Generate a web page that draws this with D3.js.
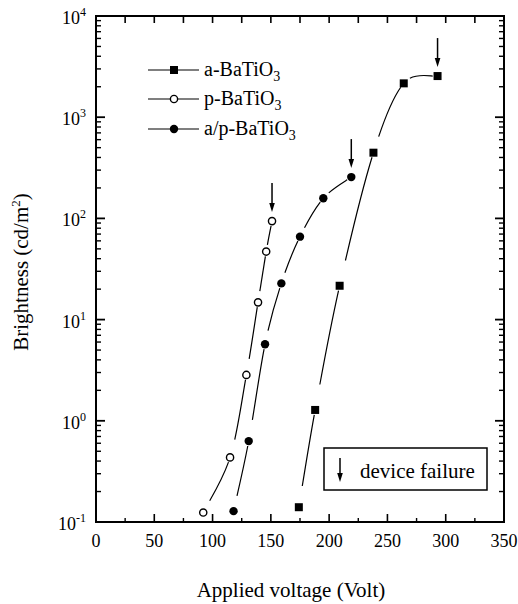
<!DOCTYPE html>
<html>
<head>
<meta charset="utf-8">
<script src="https://cdn.jsdelivr.net/npm/d3@7"></script>
<style>
  html, body { margin: 0; padding: 0; background: #fff; }
  svg text { font-family: "Liberation Serif", "Times New Roman", serif; fill: #000; }
</style>
</head>
<body>
<svg id="chart" width="518" height="604"></svg>
<script>
// Brightness vs applied voltage for three BaTiO3 insulator variants
const aVolt = [174, 188, 209, 238, 264, 293];
const aBright = [0.14, 1.28, 21.6, 446, 2160, 2550];
const pVolt = [92, 115, 129, 139, 146, 151];
const pBright = [0.124, 0.435, 2.84, 14.8, 47, 94];
const apVolt = [118, 131, 145, 159, 175, 195, 219];
const apBright = [0.128, 0.63, 5.7, 22.8, 66, 158, 256];

const seriesNames = ["a-BaTiO", "p-BaTiO", "a/p-BaTiO"];
const xTickValues = [0, 50, 100, 150, 200, 250, 300, 350];
const xMinorValues = [25, 75, 125, 175, 225, 275, 325];
const yDecades = [-1, 0, 1, 2, 3, 4];

const svg = d3.select("#chart");
const plotL = 96, plotR = 504, plotT = 16, plotB = 522;

const x = d3.scaleLinear().domain([0, 350]).range([plotL, plotR]);
const y = d3.scaleLog().domain([0.1, 1e4]).range([plotB, plotT]);

// minor log ticks 2..9 within each decade
const yMinor = [];
for (let d = -1; d < 4; d++) for (let m = 2; m <= 9; m++) yMinor.push(m * Math.pow(10, d));
const yMajor = yDecades.map(e => Math.pow(10, e));

const axes = svg.append("g").attr("stroke", "#000").attr("fill", "none");

// frame
axes.append("rect")
  .attr("x", plotL).attr("y", plotT)
  .attr("width", plotR - plotL).attr("height", plotB - plotT)
  .attr("stroke-width", 2);

// bottom ticks (inward)
axes.append("g").selectAll("line").data(xTickValues.slice(1, -1)).join("line")
  .attr("x1", d => x(d)).attr("x2", d => x(d))
  .attr("y1", plotB).attr("y2", plotB - 8).attr("stroke-width", 1.6);
axes.append("g").selectAll("line").data(xMinorValues).join("line")
  .attr("x1", d => x(d)).attr("x2", d => x(d))
  .attr("y1", plotB).attr("y2", plotB - 4).attr("stroke-width", 1.4);
// top ticks
axes.append("g").selectAll("line").data(xTickValues.slice(1, -1).concat(xMinorValues)).join("line")
  .attr("x1", d => x(d)).attr("x2", d => x(d))
  .attr("y1", plotT).attr("y2", plotT + 7).attr("stroke-width", 1.6);

// left / right log ticks
[[plotL, 1], [plotR, -1]].forEach(([px, dir]) => {
  axes.append("g").selectAll("line").data(yMajor.slice(1, -1)).join("line")
    .attr("x1", px).attr("x2", px + dir * 9)
    .attr("y1", d => y(d)).attr("y2", d => y(d)).attr("stroke-width", 1.8);
  axes.append("g").selectAll("line").data(yMinor).join("line")
    .attr("x1", px).attr("x2", px + dir * 5)
    .attr("y1", d => y(d)).attr("y2", d => y(d)).attr("stroke-width", 1.4);
});

// x tick labels
svg.append("g").selectAll("text").data(xTickValues).join("text")
  .attr("x", d => x(d)).attr("y", 547)
  .attr("text-anchor", "middle").attr("font-size", 18)
  .text(d => d);

// y tick labels as powers of ten
const yl = svg.append("g").selectAll("text").data(yDecades).join("text")
  .attr("x", 86).attr("y", d => y(Math.pow(10, d)) + 8)
  .attr("text-anchor", "end").attr("font-size", 18);
yl.append("tspan").text("10");
yl.append("tspan").attr("dy", -8).attr("font-size", 12).text(d => d < 0 ? "-" + (-d) : d);

// axis titles
svg.append("text")
  .attr("x", 291).attr("y", 597).attr("text-anchor", "middle").attr("font-size", 21)
  .text("Applied voltage (Volt)");
const yt = svg.append("text")
  .attr("transform", "translate(28,272) rotate(-90)")
  .attr("text-anchor", "middle").attr("font-size", 21);
yt.append("tspan").text("Brightness (cd/m");
yt.append("tspan").attr("dy", -8).attr("font-size", 13).text("2");
yt.append("tspan").attr("dy", 8).text(")");

// smooth connecting segments with gaps before each symbol
function drawSeries(volts, vals, g) {
  const pts = volts.map((v, i) => [x(v), y(vals[i])]);
  for (let i = 0; i < pts.length - 1; i++) {
    const p0 = pts[i - 1] || pts[i], p1 = pts[i], p2 = pts[i + 1], p3 = pts[i + 2] || pts[i + 1];
    const c1 = [p1[0] + (p2[0] - p0[0]) / 6, p1[1] + (p2[1] - p0[1]) / 6];
    const c2 = [p2[0] - (p3[0] - p1[0]) / 6, p2[1] - (p3[1] - p1[1]) / 6];
    const path = g.append("path")
      .attr("d", `M${p1}C${c1} ${c2} ${p2}`)
      .attr("fill", "none").attr("stroke", "#000").attr("stroke-width", 1.2);
    const L = path.node().getTotalLength();
    const g0 = Math.min(26, Math.max(6, 0.22 * L)), g1 = 5;
    path.attr("stroke-dasharray", `0 ${g0} ${Math.max(0, L - g0 - g1)} ${L}`);
  }
  return pts;
}

const plot = svg.append("g");
const aPts = drawSeries(aVolt, aBright, plot);
const pPts = drawSeries(pVolt, pBright, plot);
const apPts = drawSeries(apVolt, apBright, plot);

function square(g, p) {
  g.append("rect").attr("x", p[0] - 4).attr("y", p[1] - 4)
    .attr("width", 8).attr("height", 8).attr("fill", "#000");
}
function openCircle(g, p) {
  g.append("circle").attr("cx", p[0]).attr("cy", p[1]).attr("r", 3.6)
    .attr("fill", "#fff").attr("stroke", "#000").attr("stroke-width", 1.4);
}
function dot(g, p) {
  g.append("circle").attr("cx", p[0]).attr("cy", p[1]).attr("r", 4.2).attr("fill", "#000");
}
aPts.forEach(p => square(plot, p));
pPts.forEach(p => openCircle(plot, p));
apPts.forEach(p => dot(plot, p));

// device-failure arrows
function downArrow(g, cx, tipY, len) {
  g.append("line").attr("x1", cx).attr("x2", cx).attr("y1", tipY - len).attr("y2", tipY - 6)
    .attr("stroke", "#000").attr("stroke-width", 1.5);
  g.append("path").attr("d", `M${cx - 2.8},${tipY - 9}L${cx + 2.8},${tipY - 9}L${cx},${tipY}Z`)
    .attr("fill", "#000");
}
[aPts, pPts, apPts].forEach(pts => {
  const last = pts[pts.length - 1];
  downArrow(plot, last[0], last[1] - 9, 29);
});

// legend
const legend = svg.append("g");
const legendRows = [
  { y: 70, mark: square },
  { y: 99, mark: openCircle },
  { y: 129, mark: dot }
];
legendRows.forEach((r, i) => {
  legend.append("line").attr("x1", 148).attr("x2", 199).attr("y1", r.y).attr("y2", r.y)
    .attr("stroke", "#000").attr("stroke-width", 1.2);
  r.mark(legend, [174, r.y]);
  const t = legend.append("text").attr("x", 204).attr("y", r.y + 6).attr("font-size", 20);
  t.append("tspan").text(seriesNames[i]);
  t.append("tspan").attr("dy", 5).attr("font-size", 14).text("3");
});

// annotation box
const box = svg.append("g");
box.append("rect").attr("x", 324).attr("y", 448).attr("width", 163).attr("height", 42)
  .attr("fill", "none").attr("stroke", "#000").attr("stroke-width", 1.5);
downArrow(box, 340, 482, 24);
box.append("text").attr("x", 360).attr("y", 478).attr("font-size", 21).text("device failure");
</script>
</body>
</html>
